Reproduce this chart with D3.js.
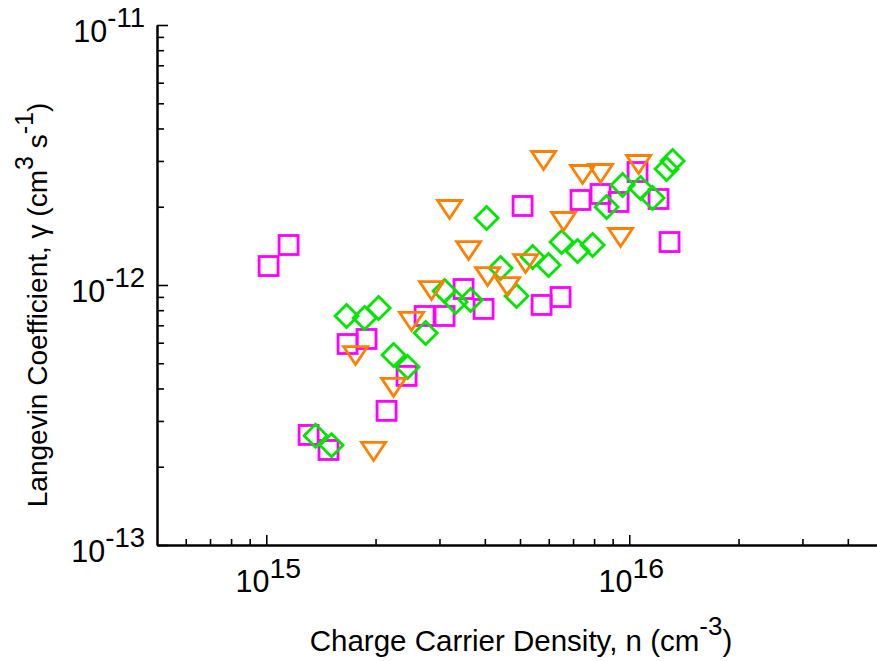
<!DOCTYPE html>
<html>
<head>
<meta charset="utf-8">
<script src="https://cdn.jsdelivr.net/npm/d3@7"></script>
<style>
  body { margin: 0; background: #fff; }
  text { font-family: "Liberation Sans", Arial, sans-serif; fill: #000; }
</style>
</head>
<body>
<svg width="877" height="661"></svg>
<script>
// values
let squareN = [1.015e15, 1.152e15, 1.308e15, 1.484e15, 1.675e15, 1.889e15, 2.145e15, 2.435e15, 2.730e15, 3.099e15, 3.496e15,
  3.969e15, 5.083e15, 5.734e15, 6.468e15, 7.340e15, 8.335e15, 9.344e15, 1.054e16, 1.204e16, 1.291e16]
let squareGamma = [1.183e-12, 1.425e-12, 2.65e-13, 2.32e-13, 5.93e-13, 6.20e-13, 3.28e-13, 4.47e-13, 7.60e-13, 7.60e-13, 9.65e-13,
  8.09e-13, 2.013e-12, 8.38e-13, 8.99e-13, 2.123e-12, 2.239e-12, 2.086e-12, 2.720e-12, 2.142e-12, 1.463e-12]

let diamondN = [1.367e15, 1.513e15, 1.664e15, 1.866e15, 2.039e15, 2.242e15, 2.451e15, 2.748e15, 3.099e15, 3.323e15, 3.655e15,
  4.045e15, 4.421e15, 4.892e15, 5.416e15, 5.993e15, 6.510e15, 7.203e15, 7.924e15, 8.659e15, 9.584e15, 1.074e16,
  1.159e16, 1.267e16, 1.316e16]
let diamondGamma = [2.63e-13, 2.42e-13, 7.60e-13, 7.47e-13, 8.16e-13, 5.38e-13, 4.84e-13, 6.54e-13, 9.48e-13, 8.60e-13, 8.76e-13,
  1.810e-12, 1.162e-12, 9.07e-13, 1.281e-12, 1.194e-12, 1.463e-12, 1.351e-12, 1.425e-12, 1.995e-12, 2.424e-12, 2.361e-12,
  2.161e-12, 2.794e-12, 2.999e-12]

let triangleN = [1.762e15, 1.975e15, 2.242e15, 2.513e15, 2.853e15, 3.199e15, 3.609e15, 4.071e15, 4.622e15, 5.180e15, 5.807e15,
  6.592e15, 7.436e15, 8.335e15, 9.463e15, 1.061e16]
let triangleGamma = [5.33e-13, 2.28e-13, 4.02e-13, 7.21e-13, 9.48e-13, 1.943e-12, 1.351e-12, 1.073e-12, 9.82e-13, 1.204e-12, 2.999e-12,
  1.747e-12, 2.649e-12, 2.673e-12, 1.516e-12, 2.894e-12]

let xMajor = [1e15, 1e16]
let xMajorLabels = [['10', '15'], ['10', '16']]
let xMinor = [6e14, 7e14, 8e14, 9e14, 2e15, 3e15, 4e15, 5e15, 6e15, 7e15, 8e15, 9e15, 2e16, 3e16, 4e16]
let yMajor = [1e-13, 1e-12, 1e-11]
let yMajorLabels = [['10', '-13'], ['10', '-12'], ['10', '-11']]
let yMinor = [2e-13, 3e-13, 4e-13, 5e-13, 6e-13, 7e-13, 8e-13, 9e-13, 2e-12, 3e-12, 4e-12, 5e-12, 6e-12, 7e-12, 8e-12, 9e-12]

let svg = d3.select('svg')

let x = d3.scaleLog().domain([5e14, 5e16]).range([157, 883])
let y = d3.scaleLog().domain([1e-13, 1e-11]).range([545, 25])

function styleAxis(g) {
  g.selectAll('path.domain').attr('stroke', '#000').attr('stroke-width', 2)
  g.selectAll('.tick line').attr('stroke', '#000').attr('stroke-width', 1.6)
  g.selectAll('.tick text').remove()
}

// minor ticks first, then majors with the axis line
svg.append('g').attr('transform', 'translate(0,545)')
  .call(d3.axisBottom(x).tickValues(xMinor).tickSize(-6).tickSizeOuter(0).tickFormat(''))
  .call(styleAxis)
svg.append('g').attr('transform', 'translate(0,545)')
  .call(d3.axisBottom(x).tickValues(xMajor).tickSize(-10).tickSizeOuter(0).tickFormat(''))
  .call(styleAxis)
svg.append('g').attr('transform', 'translate(157,0)')
  .call(d3.axisLeft(y).tickValues(yMinor).tickSize(-7).tickSizeOuter(0).tickFormat(''))
  .call(styleAxis)
svg.append('g').attr('transform', 'translate(157,0)')
  .call(d3.axisLeft(y).tickValues(yMajor).tickSize(-11).tickSizeOuter(0).tickFormat(''))
  .call(styleAxis)

// power-of-ten labels
let xLab = svg.selectAll('text.xlab').data(xMajor).enter().append('text')
  .attr('class', 'xlab')
  .attr('x', function (d) { return x(d) + 2 })
  .attr('y', 592)
  .attr('text-anchor', 'middle')
  .attr('font-size', 30.5)
xLab.append('tspan').text(function (d, i) { return xMajorLabels[i][0] })
xLab.append('tspan').attr('dy', -14).attr('font-size', 28.5).text(function (d, i) { return xMajorLabels[i][1] })

let yLab = svg.selectAll('text.ylab').data(yMajor).enter().append('text')
  .attr('class', 'ylab')
  .attr('x', 145)
  .attr('y', function (d) { return y(d) + 17 })
  .attr('text-anchor', 'end')
  .attr('font-size', 30.5)
yLab.append('tspan').text(function (d, i) { return yMajorLabels[i][0] })
yLab.append('tspan').attr('dy', -15).attr('font-size', 27.5).text(function (d, i) { return yMajorLabels[i][1] })

// axis titles
let xTitle = svg.append('text')
  .attr('x', 521).attr('y', 651)
  .attr('text-anchor', 'middle')
  .attr('font-size', 29.5)
xTitle.append('tspan').text('Charge Carrier Density, n (cm')
xTitle.append('tspan').attr('dy', -16).attr('font-size', 26).text('-3')
xTitle.append('tspan').attr('dy', 16).text(')')

let yTitle = svg.append('text')
  .attr('transform', 'translate(47,305) rotate(-90)')
  .attr('text-anchor', 'middle')
  .attr('font-size', 28)
yTitle.append('tspan').text('Langevin Coefficient, γ (cm')
yTitle.append('tspan').attr('dy', -14).attr('font-size', 25).text('3')
yTitle.append('tspan').attr('dy', 14).text(' s')
yTitle.append('tspan').attr('dy', -14).attr('font-size', 25).text('-1')
yTitle.append('tspan').attr('dy', 14).text(')')

// markers
let squares = d3.zip(squareN, squareGamma)
let diamonds = d3.zip(diamondN, diamondGamma)
let triangles = d3.zip(triangleN, triangleGamma)

svg.selectAll('rect.sq').data(squares).enter().append('rect')
  .attr('class', 'sq')
  .attr('x', function (d) { return x(d[0]) - 9.5 })
  .attr('y', function (d) { return y(d[1]) - 9.5 })
  .attr('width', 19)
  .attr('height', 19)
  .attr('fill', 'none')
  .attr('stroke', '#ff00ff')
  .attr('stroke-width', 2.8)

svg.selectAll('path.dia').data(diamonds).enter().append('path')
  .attr('class', 'dia')
  .attr('d', 'M0,-11.5L11.5,0L0,11.5L-11.5,0Z')
  .attr('transform', function (d) { return 'translate(' + x(d[0]) + ',' + y(d[1]) + ')' })
  .attr('fill', 'none')
  .attr('stroke', '#00e600')
  .attr('stroke-width', 2.8)

svg.selectAll('path.tri').data(triangles).enter().append('path')
  .attr('class', 'tri')
  .attr('d', 'M-12,-9.5L12,-9.5L0,8.5Z')
  .attr('transform', function (d) { return 'translate(' + x(d[0]) + ',' + y(d[1]) + ')' })
  .attr('fill', 'none')
  .attr('stroke', '#ff8000')
  .attr('stroke-width', 2.8)
</script>
</body>
</html>
